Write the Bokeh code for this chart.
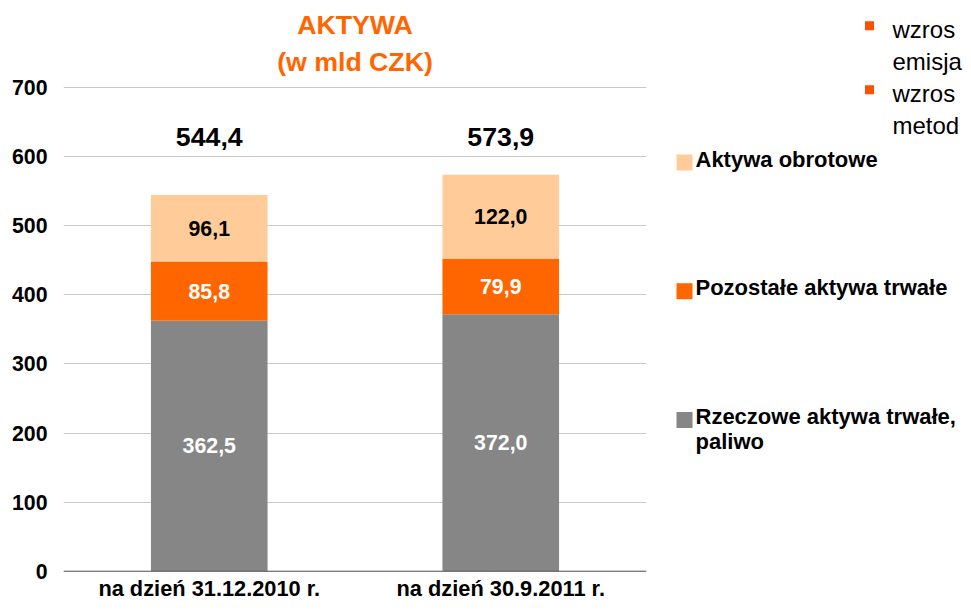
from bokeh.plotting import figure
from bokeh.layouts import row
from bokeh.models import Range1d, FixedTicker, Span
from bokeh.core.properties import value
from bokeh.embed import file_html
from bokeh.resources import INLINE

# ---- data ----
categories = ["na dzień 31.12.2010 r.", "na dzień 30.9.2011 r."]
rzeczowe = [362.5, 372.0]
pozostale = [85.8, 79.9]
obrotowe = [96.1, 122.0]
series_values = [rzeczowe, pozostale, obrotowe]
series_names = ["Rzeczowe aktywa trwałe,\npaliwo", "Pozostałe aktywa trwałe", "Aktywa obrotowe"]
series_colors = ["#868686", "#FF6600", "#FFCC99"]
inner_label_colors = ["white", "white", "black"]
y_ticks = [0, 100, 200, 300, 400, 500, 600, 700]
title_lines = ["AKTYWA", "(w mld CZK)"]
side_lines = ["wzros", "emisja", "wzros", "metod"]
side_bullets = [True, False, True, False]

FONT = value("Liberation Sans")


def fmt(v):
    return f"{v:.1f}".replace(".", ",")


# ---- main chart ----
px_per_unit = 0.691
zero_px = 570.7
H = 602
y_end = zero_px / px_per_unit
y_start = -(H - zero_px) / px_per_unit

p = figure(width=658, height=H, x_range=Range1d(0, len(categories)),
           y_range=Range1d(y_start, y_end), x_axis_type=None,
           output_backend="svg", toolbar_location=None,
           min_border_left=63, min_border_right=12, min_border_top=0, min_border_bottom=0)
p.outline_line_color = None
p.background_fill_color = "white"
p.border_fill_color = "white"

ticker = FixedTicker(ticks=y_ticks)
ax = p.yaxis[0]
ax.ticker = ticker
ax.axis_line_color = None
ax.major_tick_line_color = None
ax.minor_tick_line_color = None
ax.major_tick_out = 0
ax.major_tick_in = 0
ax.major_label_standoff = 16
ax.major_label_text_font = "Liberation Sans"
ax.major_label_text_font_style = "bold"
ax.major_label_text_font_size = "21.3px"
ax.major_label_text_color = "black"
p.ygrid[0].ticker = ticker
p.ygrid[0].grid_line_color = "#C8C8C8"
p.ygrid[0].grid_line_width = 1

xs = [i + 0.5 for i in range(len(categories))]
data = {"x": xs}
keys = []
for k, vals in enumerate(series_values):
    data[f"s{k}"] = vals
    keys.append(f"s{k}")
p.vbar_stack(keys, x="x", width=0.4, color=series_colors, source=data, line_color=None)

p.add_layout(Span(location=0, dimension="width", line_color="#5A5A5A", line_width=1))

# inner labels
base = [0.0] * len(categories)
for k, vals in enumerate(series_values):
    mids = [b + v / 2 for b, v in zip(base, vals)]
    p.text(x=xs, y=mids, text=[fmt(v) for v in vals], text_align="center",
           text_baseline="middle", text_color=inner_label_colors[k],
           text_font=FONT, text_font_style="bold", text_font_size="21.3px")
    base = [b + v for b, v in zip(base, vals)]

# totals
totals = base
p.text(x=xs, y=[629] * len(xs), text=[fmt(t) for t in totals], text_align="center",
       text_baseline="middle", text_color="black", text_font=FONT,
       text_font_style="bold", text_font_size="26.7px")

# category labels
p.text(x=xs, y=[-25] * len(xs), text=categories, text_align="center",
       text_baseline="middle", text_color="black", text_font=FONT,
       text_font_style="bold", text_font_size="21.8px")

# title
p.text(x=[len(categories) / 2] * 2, y=[790.3, 736.6], text=title_lines,
       text_align="center", text_baseline="middle", text_color="#FF6600",
       text_font=FONT, text_font_style="bold", text_font_size="26.7px")

# ---- right panel: legend + notes ----
W2 = 963 - 658
q = figure(width=W2, height=H, x_range=Range1d(0, W2), y_range=Range1d(H, 0),
           x_axis_type=None, y_axis_type=None, output_backend="svg",
           toolbar_location=None, min_border=0)
q.outline_line_color = None
q.xgrid.visible = False
q.ygrid.visible = False
q.background_fill_color = "white"
q.border_fill_color = "white"

legend_order = list(range(len(series_names)))[::-1]
first_mid = 158.7
step = 128.7
sq_y, sq_c = [], []
lx, ly, lt = [], [], []
for row_i, k in enumerate(legend_order):
    m = first_mid + row_i * step
    sq_y.append(m + 3.4)
    sq_c.append(series_colors[k])
    for j, line in enumerate(series_names[k].split("\n")):
        lx.append(37)
        ly.append(m + j * 25)
        lt.append(line)
q.scatter(x=[26] * len(sq_y), y=sq_y, marker="square", size=16, color=sq_c, line_color=None)
q.text(x=lx, y=ly, text=lt, text_align="left", text_baseline="middle",
       text_color="black", text_font=FONT, text_font_style="bold", text_font_size="22px")

side_mid0 = 28.9
side_step = 32
sy, by = [], []
for i, (line, bul) in enumerate(zip(side_lines, side_bullets)):
    ym = side_mid0 + i * side_step
    sy.append(ym)
    if bul:
        by.append(ym - 3.6)
q.scatter(x=[211] * len(by), y=by, marker="square", size=9, color="#FF5000", line_color=None)
q.text(x=[234] * len(side_lines), y=sy, text=side_lines, text_align="left",
       text_baseline="middle", text_color="black", text_font=FONT,
       text_font_size="24px")

layout = row(p, q)
open("out.html", "w").write(file_html(layout, INLINE))
